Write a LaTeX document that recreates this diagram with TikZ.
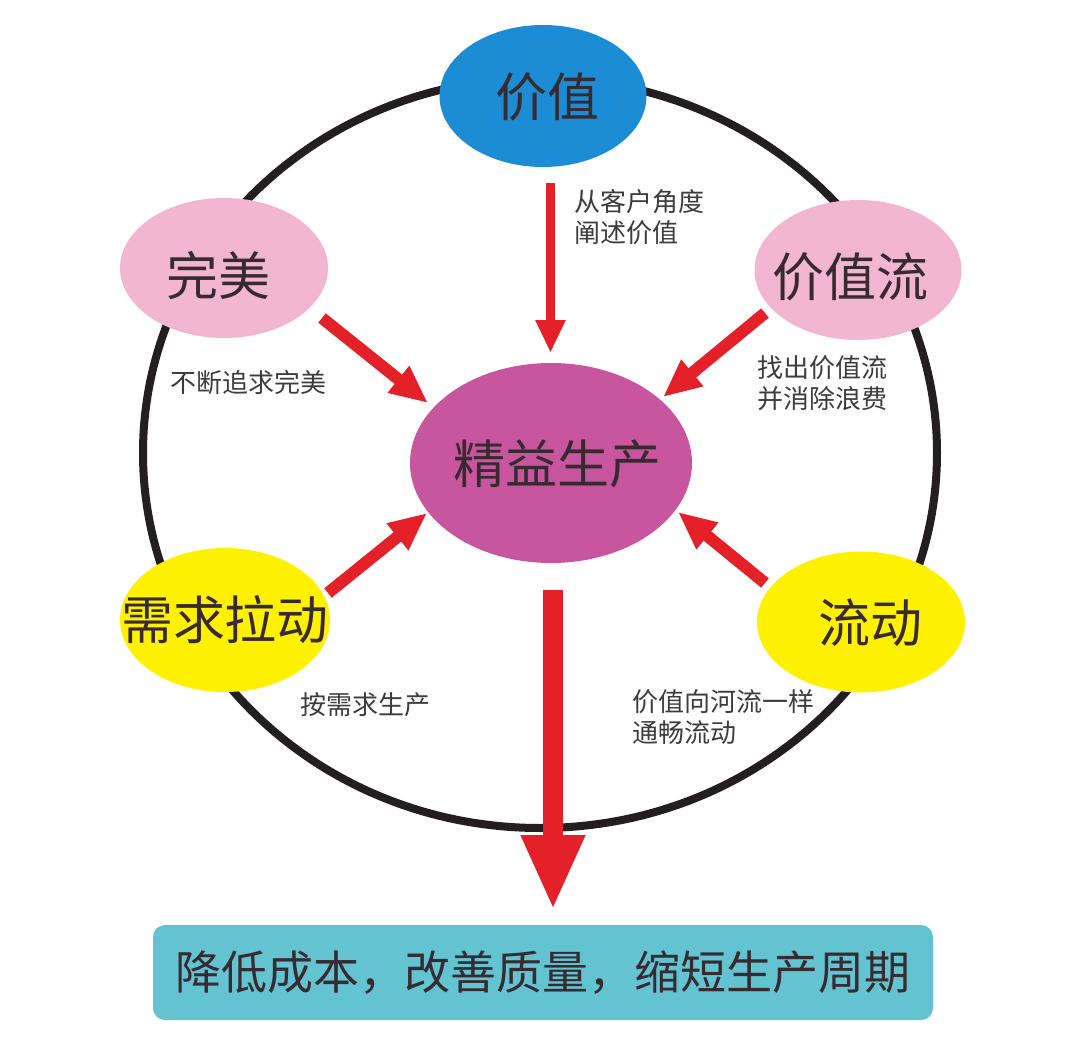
\documentclass[tikz,border=0pt]{standalone}
\usepackage{fontspec}
\newfontfamily\cjk{Noto Sans CJK SC}
\usetikzlibrary{shapes.geometric,arrows.meta}
\definecolor{ringc}{RGB}{35,31,32}
\definecolor{bluec}{RGB}{28,141,213}
\definecolor{pinkc}{RGB}{243,182,208}
\definecolor{magc}{RGB}{200,86,158}
\definecolor{yelc}{RGB}{255,241,0}
\definecolor{redc}{RGB}{228,32,40}
\definecolor{tealc}{RGB}{99,195,209}
\definecolor{txtdark}{RGB}{55,42,48}
\definecolor{txtgray}{RGB}{60,60,60}
\begin{document}
\begin{tikzpicture}[x=1pt,y=-1pt,
  bubble/.style={ellipse,inner sep=0pt,draw=none},
  bigtxt/.style={font=\cjk\fontsize{52}{60}\selectfont,text=txtdark,inner sep=0pt},
  smalltxt/.style={font=\cjk\fontsize{26}{31}\selectfont,text=txtgray,align=left,anchor=west,inner sep=0pt},
  redarrow/.style={draw=redc,line width=12pt,-{Triangle[width=32pt,length=38pt]}},
  toparrow/.style={draw=redc,line width=9pt,-{Triangle[width=28pt,length=33pt]}},
  bigarrow/.style={draw=redc,line width=20pt,-{Triangle[width=59pt,length=75pt]}}]
\useasboundingbox (0,0) rectangle (1080,1060);
\fill[white] (0,0) rectangle (1080,1060);
% ring
\draw[ringc,line width=8pt] (540,453) ellipse [x radius=397pt,y radius=375pt];
% bubbles
\node[bubble,fill=bluec,minimum width=207pt,minimum height=142pt] (jz) at (543,96) {};
\node[bubble,fill=pinkc,minimum width=208pt,minimum height=140pt] (wm) at (224,268) {};
\node[bubble,fill=pinkc,minimum width=207pt,minimum height=140pt] (jzl) at (858,270) {};
\node[bubble,fill=magc,minimum width=282pt,minimum height=200pt] (jy) at (551,463) {};
\node[bubble,fill=yelc,minimum width=210pt,minimum height=144pt] (xq) at (225,620) {};
\node[bubble,fill=yelc,minimum width=208pt,minimum height=141pt] (ld) at (861,622) {};
% bubble texts
\node[bigtxt] (tjz) at (547,97) {价值};
\node[bigtxt] (twm) at (218,276) {完美};
\node[bigtxt] (tjzl) at (850,277) {价值流};
\node[bigtxt] (tjy) at (557,464) {精益生产};
\node[bigtxt] (txq) at (225,620) {需求拉动};
\node[bigtxt] (tld) at (870,623) {流动};
% arrow ends
\coordinate (a1s) at (550.5,183); \coordinate (a1e) at (550.5,353);
\coordinate (a2s) at (322,318);   \coordinate (a2e) at (428,403);
\coordinate (a3s) at (765,313);   \coordinate (a3e) at (663,397);
\coordinate (a4s) at (328,593);   \coordinate (a4e) at (427,513);
\coordinate (a5s) at (765,583);   \coordinate (a5e) at (678,512);
\coordinate (a6s) at (553,590);   \coordinate (a6e) at (553,910);
\draw[toparrow] (a1s) -- (a1e);
\draw[redarrow] (a2s) -- (a2e);
\draw[redarrow] (a3s) -- (a3e);
\draw[redarrow] (a4s) -- (a4e);
\draw[redarrow] (a5s) -- (a5e);
\draw[bigarrow] (a6s) -- (a6e);
% small labels
\node[smalltxt] (l1) at (574,217.5) {从客户角度\\阐述价值};
\node[smalltxt] (l2) at (170,383) {不断追求完美};
\node[smalltxt] (l3) at (757,383) {找出价值流\\并消除浪费};
\node[smalltxt] (l4) at (300,705) {按需求生产};
\node[smalltxt] (l5) at (632,717.5) {价值向河流一样\\通畅流动};
% result box
\node[fill=tealc,rounded corners=12pt,minimum width=780pt,minimum height=95pt,inner sep=0pt,
      font=\cjk\fontsize{46}{56}\selectfont,text=txtdark] (res) at (543,972.5) {降低成本，改善质量，缩短生产周期};
\end{tikzpicture}
\end{document}
